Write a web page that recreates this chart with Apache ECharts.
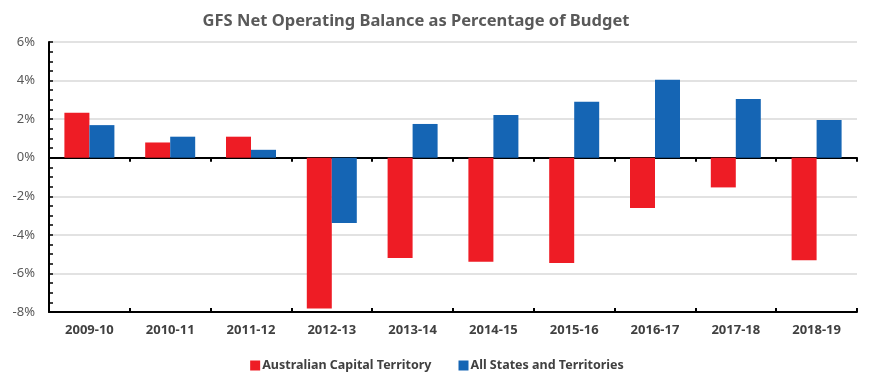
<!DOCTYPE html>
<html>
<head>
<meta charset="utf-8">
<script src="https://cdn.jsdelivr.net/npm/echarts@6/dist/echarts.min.js"></script>
<style>
html,body{margin:0;padding:0;background:#fff;}
#chart{width:874px;height:384px;}
</style>
</head>
<body>
<div id="chart"></div>
<script>
var categories = ['2009-10','2010-11','2011-12','2012-13','2013-14','2014-15','2015-16','2016-17','2017-18','2018-19'];
var actValues = [2.33, 0.79, 1.09, -7.82, -5.20, -5.39, -5.46, -2.61, -1.54, -5.32];
var allValues = [1.69, 1.09, 0.41, -3.39, 1.75, 2.22, 2.90, 4.04, 3.04, 1.95];
var seriesNames = ['Australian Capital Territory', 'All States and Territories'];
var titleText = 'GFS Net Operating Balance as Percentage of Budget';

var chart = echarts.init(document.getElementById('chart'), null, {renderer:'canvas'});
var font = 'Noto Sans';
chart.setOption({
  animation: false,
  title: {
    text: titleText,
    left: 411, top: 8, textAlign: 'center',
    textStyle: {fontFamily: font, fontWeight: 'bold', fontSize: 16.5, color: '#595959'}
  },
  legend: {
    data: seriesNames,
    left: 'center', top: 354, itemGap: 27,
    itemWidth: 10, itemHeight: 10, icon: 'rect',
    textStyle: {fontFamily: font, fontWeight: 'bold', fontSize: 12.5, color: '#404040', padding:[0,0,0,-3]}
  },
  grid: {left: 49, right: 17, top: 42, bottom: 72, containLabel: false},
  xAxis: [{
    type: 'category', data: categories,
    axisLine: {onZero: true, lineStyle: {color: '#000', width: 2}},
    axisTick: {show: true, length: 4, lineStyle: {color: '#000', width: 2}},
    axisLabel: {show: true, fontFamily: font, fontWeight: 'bold', fontSize: 13, color: '#404040', margin: 12},
    splitLine: {show: false}
  }, {
    type: 'category', data: categories, position: 'bottom',
    axisLine: {onZero: true, lineStyle: {color: '#000', width: 2}},
    axisTick: {show: true, inside: true, length: 4, lineStyle: {color: '#000', width: 2}},
    axisLabel: {show: false}
  }],
  yAxis: {
    type: 'value', min: -8, max: 6, interval: 2,
    axisLine: {show: true, lineStyle: {color: '#000', width: 2}},
    axisTick: {show: true, inside: true, length: 4, lineStyle: {color: '#000', width: 1.5}},
    minorTick: {show: true, splitNumber: 4, length: 4, lineStyle: {color: '#000', width: 1.5}},
    axisLabel: {fontFamily: font, fontSize: 13, color: '#595959', margin: 14,
      formatter: function(v){ return v + '%'; }},
    splitLine: {show: true, lineStyle: {color: '#d9d9d9', width: 1.5}}
  },
  series: [{
    name: seriesNames[0], type: 'bar', data: actValues,
    barWidth: 25, barGap: '0%',
    itemStyle: {color: '#ee1c25'}
  }, {
    name: seriesNames[1], type: 'bar', data: allValues,
    barWidth: 25, barGap: '0%',
    itemStyle: {color: '#1565b4'}
  }]
});
</script>
</body>
</html>
